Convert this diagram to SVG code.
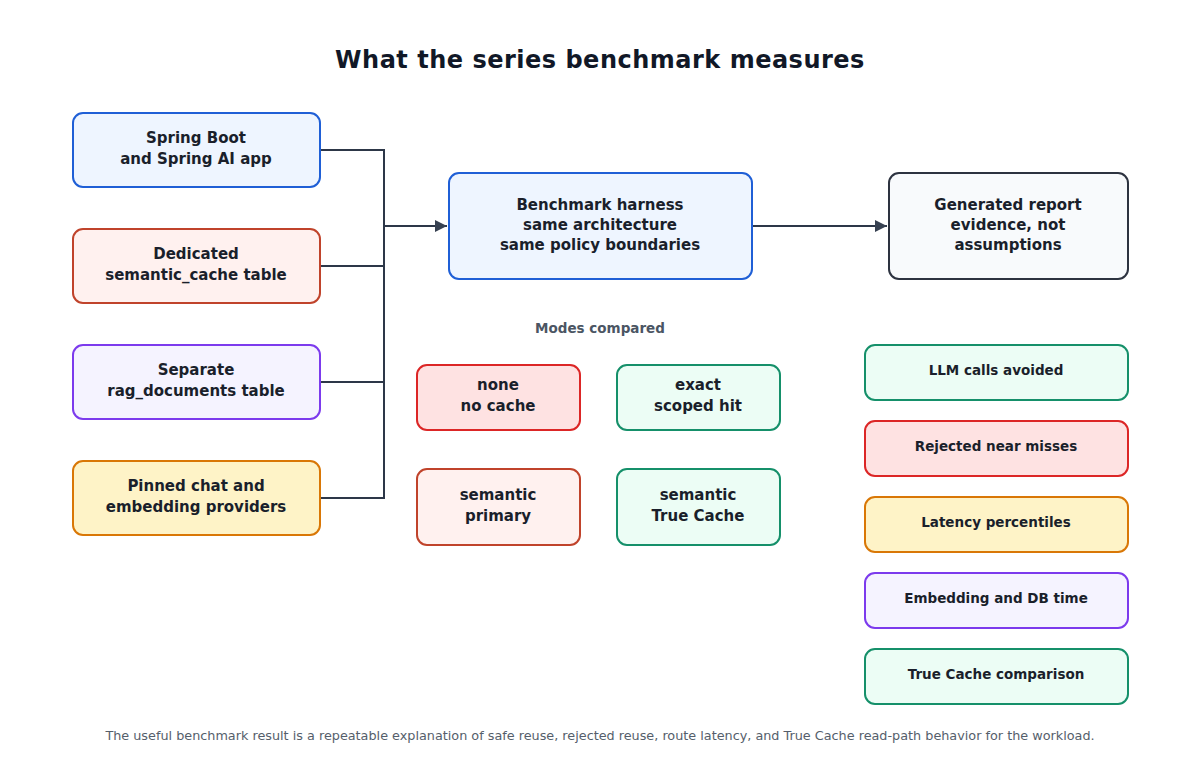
<svg xmlns="http://www.w3.org/2000/svg" width="1200" height="768" viewBox="0 0 1200 768">
<style>
  .t { font-family: "DejaVu Sans", "Liberation Sans", sans-serif; font-weight: bold; fill: #1a1f2b; text-anchor: middle; }
  .n { font-size: 15px; }
  .s { font-size: 13.5px; }
  .box { stroke-width: 2; }
  .blue { fill: #eef5ff; stroke: #1f5fd6; }
  .rust { fill: #fff1ef; stroke: #c0432b; }
  .purple { fill: #f5f3ff; stroke: #7c3aed; }
  .amber { fill: #fef3c7; stroke: #d97706; }
  .gray { fill: #f8fafc; stroke: #2d3340; }
  .red { fill: #fee2e2; stroke: #dc2626; }
  .green { fill: #ecfdf5; stroke: #15906a; }
  .conn { fill: none; stroke: #2d3748; stroke-width: 2; }
</style>
<defs>
  <marker id="arr" viewBox="0 0 10 10" refX="10" refY="5" markerWidth="12" markerHeight="12" markerUnits="userSpaceOnUse" orient="auto">
    <path d="M0,0 L10,5 L0,10 z" fill="#374151"/>
  </marker>
</defs>
<rect width="1200" height="768" fill="#ffffff"/>
<text x="600" y="68" class="t" style="font-size:24px;letter-spacing:0.5px;fill:#111827">What the series benchmark measures</text>

<g id="connectors">
  <path class="conn" d="M320,150 H384 M320,266 H384 M320,382 H384 M320,498 H384 M384,149 V499"/>
  <path class="conn" d="M384,226 H447" marker-end="url(#arr)"/>
  <path class="conn" d="M752,226 H887" marker-end="url(#arr)"/>
</g>

<g id="spring-app">
  <rect class="box blue" x="73" y="113" width="247" height="74" rx="10"/>
  <text class="t n" x="196" y="143">Spring Boot</text>
  <text class="t n" x="196" y="164">and Spring AI app</text>
</g>
<g id="semantic-cache-table">
  <rect class="box rust" x="73" y="229" width="247" height="74" rx="10"/>
  <text class="t n" x="196" y="259">Dedicated</text>
  <text class="t n" x="196" y="280">semantic_cache table</text>
</g>
<g id="rag-documents-table">
  <rect class="box purple" x="73" y="345" width="247" height="74" rx="10"/>
  <text class="t n" x="196" y="375">Separate</text>
  <text class="t n" x="196" y="396">rag_documents table</text>
</g>
<g id="pinned-providers">
  <rect class="box amber" x="73" y="461" width="247" height="74" rx="10"/>
  <text class="t n" x="196" y="491">Pinned chat and</text>
  <text class="t n" x="196" y="512">embedding providers</text>
</g>

<g id="harness">
  <rect class="box blue" x="449" y="173" width="303" height="106" rx="10"/>
  <text class="t n" x="600" y="210">Benchmark harness</text>
  <text class="t n" x="600" y="230">same architecture</text>
  <text class="t n" x="600" y="250">same policy boundaries</text>
</g>
<g id="report">
  <rect class="box gray" x="889" y="173" width="239" height="106" rx="10"/>
  <text class="t n" x="1008" y="210">Generated report</text>
  <text class="t n" x="1008" y="230">evidence, not</text>
  <text class="t n" x="1008" y="250">assumptions</text>
</g>

<text x="600" y="333" class="t" style="font-size:13.5px;fill:#4b5563">Modes compared</text>

<g id="mode-none">
  <rect class="box red" x="417" y="365" width="163" height="65" rx="10"/>
  <text class="t n" x="498" y="390">none</text>
  <text class="t n" x="498" y="411">no cache</text>
</g>
<g id="mode-exact">
  <rect class="box green" x="617" y="365" width="163" height="65" rx="10"/>
  <text class="t n" x="698" y="390">exact</text>
  <text class="t n" x="698" y="411">scoped hit</text>
</g>
<g id="mode-semantic-primary">
  <rect class="box rust" x="417" y="469" width="163" height="76" rx="10"/>
  <text class="t n" x="498" y="500">semantic</text>
  <text class="t n" x="498" y="521">primary</text>
</g>
<g id="mode-semantic-truecache">
  <rect class="box green" x="617" y="469" width="163" height="76" rx="10"/>
  <text class="t n" x="698" y="500">semantic</text>
  <text class="t n" x="698" y="521">True Cache</text>
</g>

<g id="m-llm">
  <rect class="box green" x="865" y="345" width="263" height="55" rx="10"/>
  <text class="t s" x="996" y="375">LLM calls avoided</text>
</g>
<g id="m-rejected">
  <rect class="box red" x="865" y="421" width="263" height="55" rx="10"/>
  <text class="t s" x="996" y="451">Rejected near misses</text>
</g>
<g id="m-latency">
  <rect class="box amber" x="865" y="497" width="263" height="55" rx="10"/>
  <text class="t s" x="996" y="527">Latency percentiles</text>
</g>
<g id="m-embedding">
  <rect class="box purple" x="865" y="573" width="263" height="55" rx="10"/>
  <text class="t s" x="996" y="603">Embedding and DB time</text>
</g>
<g id="m-truecache">
  <rect class="box green" x="865" y="649" width="263" height="55" rx="10"/>
  <text class="t s" x="996" y="679">True Cache comparison</text>
</g>

<text x="600" y="740" style="font-family:'DejaVu Sans','Liberation Sans',sans-serif;font-size:12.8px;fill:#555e6b;text-anchor:middle">The useful benchmark result is a repeatable explanation of safe reuse, rejected reuse, route latency, and True Cache read-path behavior for the workload.</text>
</svg>
